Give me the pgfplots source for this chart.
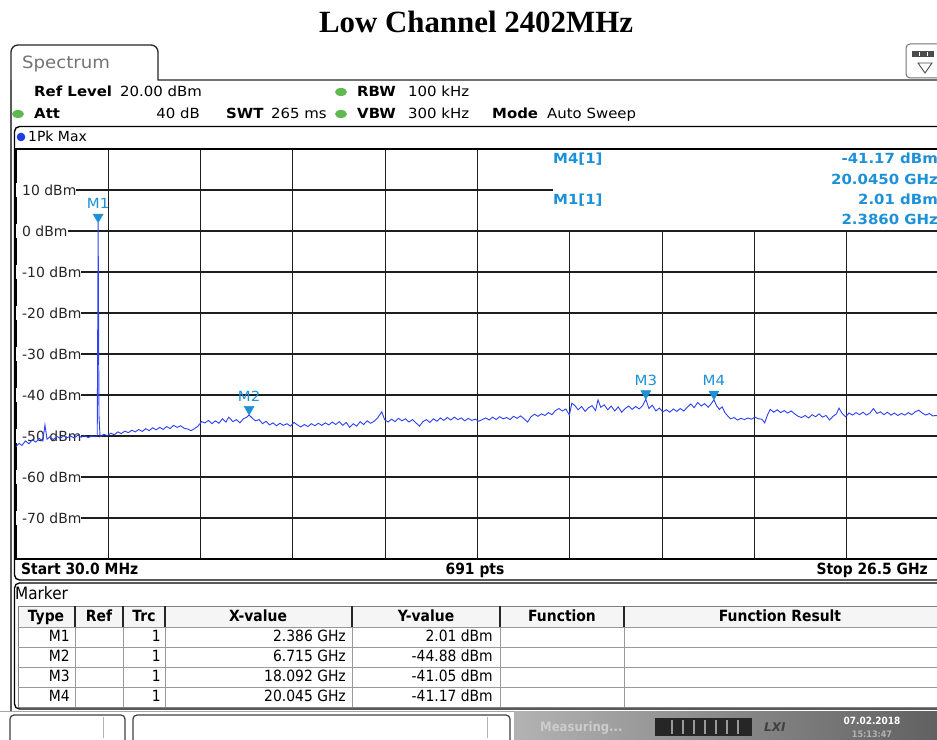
\documentclass[border=0pt]{standalone}
\usepackage{pgfplots}
\pgfplotsset{compat=1.18}
\usepackage{fontspec}
\setmainfont{DejaVu Sans}
\newfontfamily\titlefont{Liberation Serif}
\newfontfamily\hdrfont{DejaVu Sans}[FakeStretch=1.07]
\newfontfamily\tabfont{DejaVu Sans}[FakeStretch=0.9]
\newcommand\hdr{\hdrfont\fontsize{14}{16}\selectfont}
\newcommand\lbl{\normalfont\fontsize{14}{16}\selectfont}
\newcommand\tabf{\tabfont\fontsize{15.5}{17}\selectfont}

\definecolor{traceblue}{RGB}{45,65,245}
\definecolor{mkblue}{RGB}{28,145,215}
\definecolor{ledgreen}{RGB}{95,185,80}
\definecolor{dotblue}{RGB}{30,60,230}
\definecolor{gridc}{RGB}{30,30,30}

\begin{document}
\begin{tikzpicture}[x=1bp,y=1bp]
% page background
\fill[white] (0,0) rectangle (937,740);

% diagram frame (drawn before the axis so the axis lines sit on top)
\draw[black, line width=1.4bp, rounded corners=5bp] (14.5,740-580) rectangle (960,740-126.5);

\begin{axis}[
  name=spec,
  at={(16bp,181bp)}, anchor=south west,
  scale only axis, width=923bp, height=410bp,
  xmin=0.03, xmax=26.5, ymin=-80, ymax=20,
  xtick={2.677,5.324,7.971,10.618,13.265,15.912,18.559,21.206,23.853},
  ytick={-70,-60,-50,-40,-30,-20,-10,0,10},
  xticklabels={}, yticklabels={},
  major tick length=0pt,
  grid=major,
  major grid style={gridc, line width=1.1bp},
  axis line style={black, line width=1.4bp},
  clip=false,
]
% level labels sit on the grid lines
\pgfplotsinvokeforeach{10,0,-10,-20,-30,-40,-50,-60,-70}{
  \node[anchor=west, fill=white, inner xsep=0pt, inner ysep=2bp, text=black!85, font=\lbl]
    at (axis cs:0.03,#1) {\hspace*{6bp}#1 dBm};
}
% marker readout area
\fill[white] (axis cs:15.43,19.75) rectangle (axis cs:26.8,0.35);

% trace 1: Pk Max
\addplot[traceblue, line width=0.9bp] coordinates {
(0.03,-52.6)(0.12,-51.8)(0.2,-52.3)(0.3,-51.2)(0.4,-51.9)(0.5,-50.9)(0.6,-51.5)(0.7,-50.6)
(0.8,-51.2)(0.86,-47.3)(0.92,-50.8)(1.0,-50.2)(1.1,-50.9)(1.2,-50.1)(1.3,-50.6)(1.4,-49.9)
(1.5,-50.4)(1.6,-50.0)(1.7,-50.5)(1.8,-49.8)(1.9,-50.3)(2.0,-49.9)(2.1,-50.4)(2.2,-50.0)
(2.3,-50.2)(2.36,-49.9)(2.386,2.01)(2.41,-44.9)(2.44,-50.2)
(2.55,-49.6)(2.65,-49.9)(2.75,-49.3)(2.85,-49.7)(2.95,-49.0)(3.05,-49.4)(3.15,-48.8)(3.25,-49.2)
(3.35,-48.6)(3.45,-49.0)(3.55,-48.4)(3.65,-48.9)(3.75,-48.2)(3.85,-48.7)(3.95,-48.0)(4.05,-48.5)
(4.15,-47.9)(4.25,-48.4)(4.35,-47.7)(4.45,-48.2)(4.55,-47.4)(4.65,-47.9)(4.75,-47.5)(4.85,-48.1)
(4.95,-48.3)(5.05,-48.7)(5.15,-48.2)(5.25,-47.6)(5.35,-46.5)
(5.45,-46.8)(5.55,-46.2)(5.65,-47.0)(5.75,-46.3)(5.85,-46.9)(5.95,-45.8)(6.05,-46.6)(6.13,-45.4)
(6.25,-46.5)(6.35,-46.0)(6.45,-46.8)(6.55,-45.8)(6.65,-45.4)(6.715,-44.88)(6.8,-45.6)(6.9,-46.3)
(7.0,-46.0)(7.1,-47.0)(7.2,-46.4)(7.3,-47.3)(7.4,-46.8)(7.5,-47.5)(7.6,-46.9)(7.7,-47.4)
(7.8,-47.0)(7.9,-47.6)(8.0,-46.7)
(8.1,-47.3)(8.2,-47.8)(8.3,-47.2)(8.4,-47.7)(8.5,-47.0)(8.6,-47.5)(8.7,-46.9)(8.8,-47.4)
(8.9,-46.8)(9.0,-47.3)(9.1,-46.6)(9.2,-47.2)(9.3,-46.5)(9.4,-47.4)(9.5,-46.7)(9.6,-47.9)
(9.7,-47.0)(9.8,-47.6)(9.9,-46.5)(10.0,-47.2)(10.1,-46.3)(10.2,-46.9)(10.3,-46.4)(10.4,-45.6)
(10.52,-44.1)(10.6,-46.0)(10.7,-46.6)
(10.8,-45.9)(10.9,-46.5)(11.0,-45.7)(11.1,-46.3)(11.2,-45.8)(11.3,-46.6)(11.4,-46.0)(11.5,-46.8)
(11.6,-47.6)(11.7,-46.5)(11.8,-46.0)(11.9,-46.7)(12.0,-45.8)(12.1,-46.4)(12.2,-45.6)(12.3,-46.2)
(12.4,-45.5)(12.5,-46.1)(12.6,-45.4)(12.7,-46.0)(12.8,-45.6)(12.9,-46.3)(13.0,-45.7)(13.1,-46.2)
(13.2,-45.9)(13.3,-46.4)(13.4,-46.0)
(13.5,-45.6)(13.6,-46.1)(13.7,-45.4)(13.8,-46.0)(13.9,-45.3)(14.0,-45.8)(14.1,-45.5)(14.2,-46.0)
(14.3,-45.2)(14.4,-45.7)(14.5,-45.1)(14.6,-45.8)(14.7,-46.6)(14.8,-45.3)(14.9,-44.7)(15.0,-45.2)
(15.1,-44.6)(15.2,-45.0)(15.3,-44.3)(15.4,-44.8)(15.5,-43.8)(15.6,-43.3)(15.7,-43.9)(15.8,-43.4)
(15.9,-44.9)(15.97,-42.0)
(16.05,-42.5)(16.15,-43.6)(16.25,-42.8)(16.35,-44.0)(16.45,-43.1)(16.55,-42.6)(16.65,-43.8)
(16.72,-41.2)(16.8,-43.0)(16.9,-42.4)(17.0,-43.6)(17.1,-42.7)(17.2,-43.9)(17.3,-42.9)(17.4,-44.2)
(17.5,-43.3)(17.6,-42.7)(17.7,-43.5)(17.8,-42.8)(17.9,-43.4)(18.0,-42.6)(18.092,-41.05)(18.18,-43.3)
(18.28,-42.5)(18.38,-43.9)(18.48,-43.2)(18.58,-44.1)
(18.68,-43.6)(18.78,-44.2)(18.88,-43.4)(18.98,-44.0)(19.08,-43.3)(19.18,-43.9)(19.28,-43.0)(19.38,-42.2)
(19.48,-43.1)(19.58,-41.8)(19.68,-42.7)(19.78,-42.1)(19.88,-43.0)(19.96,-42.2)(20.045,-41.17)(20.12,-42.6)
(20.2,-43.5)(20.28,-42.9)(20.36,-44.3)(20.44,-45.1)(20.52,-45.8)(20.62,-45.5)(20.72,-46.1)(20.82,-45.7)
(20.92,-46.0)(21.02,-45.6)(21.12,-45.9)(21.22,-45.4)(21.32,-45.8)(21.42,-45.9)(21.5,-46.8)(21.58,-44.9)
(21.66,-43.5)(21.76,-44.2)
(21.86,-43.6)(21.96,-44.3)(22.06,-43.8)(22.16,-44.4)(22.26,-43.9)(22.36,-44.6)(22.46,-45.2)(22.56,-45.5)
(22.66,-45.0)(22.76,-45.6)(22.86,-44.8)(22.96,-45.3)(23.06,-44.6)(23.16,-45.4)(23.26,-45.0)(23.36,-46.1)
(23.46,-45.2)(23.56,-44.6)(23.63,-43.2)(23.72,-44.5)(23.82,-45.3)(23.92,-44.4)(24.02,-44.9)(24.12,-44.3)
(24.22,-44.8)(24.32,-44.2)(24.42,-44.9)(24.52,-44.4)(24.62,-43.3)(24.72,-44.5)(24.82,-44.1)(24.92,-44.8)
(25.02,-44.2)(25.12,-44.9)(25.22,-44.4)(25.32,-45.0)(25.42,-44.5)(25.52,-44.9)(25.62,-44.3)(25.72,-44.8)
(25.82,-44.1)(25.92,-43.7)(26.02,-44.4)(26.12,-44.9)(26.22,-44.5)(26.32,-45.1)(26.42,-45.0)(26.5,-45.3)
};

% markers M1..M4
\addplot[only marks, mark=triangle*, mark size=5.8bp,
  mark options={yshift=5.8bp, rotate=180, fill=mkblue, draw=mkblue}]
  coordinates {(2.386,2.01)(6.715,-44.88)(18.092,-41.05)(20.045,-41.17)};
\node[anchor=base, inner sep=0pt, text=mkblue, font=\hdr, yshift=14bp] at (axis cs:2.386,2.01) {M1};
\node[anchor=base, inner sep=0pt, text=mkblue, font=\hdr, yshift=14bp] at (axis cs:6.715,-44.88) {M2};
\node[anchor=base, inner sep=0pt, text=mkblue, font=\hdr, yshift=14bp] at (axis cs:18.092,-41.05) {M3};
\node[anchor=base, inner sep=0pt, text=mkblue, font=\hdr, yshift=14bp] at (axis cs:20.045,-41.17) {M4};
\end{axis}

% title
\node[anchor=base, inner sep=0pt, font=\titlefont\bfseries\fontsize{31}{34}\selectfont]
  at (476,740-33) {Low Channel 2402MHz};

% window frame and tab
\draw[black!85, line width=1.3bp] (11,740-80) -- (11,740-52)
  arc[start angle=180,end angle=90,radius=7] -- (151,740-45)
  arc[start angle=90,end angle=0,radius=7] -- (158,740-80) -- (945,740-80);
\draw[black!65, line width=2.4bp] (11,740-80) -- (11,740-711);
\node[anchor=base west, inner sep=0pt, text=black!55, font=\hdrfont\fontsize{17}{19}\selectfont]
  at (22,740-69) {Spectrum};

% settings icon
\draw[black!55, line width=1bp, rounded corners=4bp] (906,740-78) rectangle (950,740-44);
\fill[black!70] (912,740-57) rectangle (934,740-51);
\foreach \i in {919,927} \draw[white, line width=0.8bp] (\i,740-56) -- (\i,740-52);
\draw[black!70, line width=0.9bp] (918,740-63) -- (932,740-63) -- (925,740-73) -- cycle;

% instrument settings
\fill[ledgreen] (341,740-92) ellipse [x radius=6, y radius=4];
\fill[ledgreen] (341,740-114) ellipse [x radius=6, y radius=4];
\fill[ledgreen] (18,740-114) ellipse [x radius=6, y radius=4];
\begin{scope}[every node/.style={inner sep=0pt, font=\hdr}]
\node[anchor=base west] at (34,740-97) {\bfseries Ref Level};
\node[anchor=base west] at (120,740-97) {20.00 dBm};
\node[anchor=base west] at (357,740-97) {\bfseries RBW};
\node[anchor=base west] at (408,740-97) {100 kHz};
\node[anchor=base west] at (34,740-119) {\bfseries Att};
\node[anchor=base east] at (200,740-119) {40 dB};
\node[anchor=base west] at (226,740-119) {\bfseries SWT};
\node[anchor=base west] at (271,740-119) {265 ms};
\node[anchor=base west] at (357,740-119) {\bfseries VBW};
\node[anchor=base west] at (408,740-119) {300 kHz};
\node[anchor=base west] at (492,740-119) {\bfseries Mode};
\node[anchor=base west] at (547,740-119) {Auto Sweep};
\end{scope}

% trace indicator
\fill[dotblue] (21,740-137) circle (4.3);
\node[anchor=base west, inner sep=0pt, font=\lbl] at (28,740-142) {1Pk Max};

% marker readout
\begin{scope}[every node/.style={inner sep=0pt, text=mkblue, font=\hdr\bfseries}]
\node[anchor=base west] at (553,740-164) {M4[1]};
\node[anchor=base east] at (938,740-164) {-41.17 dBm};
\node[anchor=base east] at (938,740-185) {20.0450 GHz};
\node[anchor=base west] at (553,740-205) {M1[1]};
\node[anchor=base east] at (938,740-205) {2.01 dBm};
\node[anchor=base east] at (938,740-225) {2.3860 GHz};
\end{scope}

% sweep info
\begin{scope}[every node/.style={inner sep=0pt, font=\tabfont\fontsize{15.5}{17}\selectfont\bfseries}]
\node[anchor=base west] at (21,740-575) {Start 30.0 MHz};
\node[anchor=base] at (475,740-575) {691 pts};
\node[anchor=base east] at (928,740-575) {Stop 26.5 GHz};
\end{scope}

% marker table
\draw[black, line width=1.3bp, rounded corners=5bp] (14.5,740-709) rectangle (960,740-583);
\node[anchor=base west, inner sep=0pt, font=\tabfont\fontsize{17}{19}\selectfont] at (15,740-600) {Marker};
\fill[black!4] (18,740-627) rectangle (945,740-606);
\draw[black!50, line width=0.8bp] (18,740-707) rectangle (945,740-606);
\foreach \yy in {627,647,667,687}
  \draw[black!40, line width=0.8bp] (18,740-\yy) -- (945,740-\yy);
\foreach \xx in {75,123,165,352,500,624} {
  \draw[black!85, line width=1.2bp] (\xx,740-606) -- (\xx,740-627);
  \draw[black!40, line width=0.8bp] (\xx,740-627) -- (\xx,740-707);
}
\begin{scope}[every node/.style={inner sep=0pt, font=\tabf}]
\node[anchor=base, font=\tabf\bfseries] at (46,740-622) {Type};
\node[anchor=base, font=\tabf\bfseries] at (99,740-622) {Ref};
\node[anchor=base, font=\tabf\bfseries] at (144,740-622) {Trc};
\node[anchor=base, font=\tabf\bfseries] at (258,740-622) {X-value};
\node[anchor=base, font=\tabf\bfseries] at (426,740-622) {Y-value};
\node[anchor=base, font=\tabf\bfseries] at (562,740-622) {Function};
\node[anchor=base, font=\tabf\bfseries] at (780,740-622) {Function Result};
\node[anchor=base east] at (70,740-642) {M1};
\node[anchor=base east] at (161,740-642) {1};
\node[anchor=base east] at (346,740-642) {2.386 GHz};
\node[anchor=base east] at (493,740-642) {2.01 dBm};
\node[anchor=base east] at (70,740-662) {M2};
\node[anchor=base east] at (161,740-662) {1};
\node[anchor=base east] at (346,740-662) {6.715 GHz};
\node[anchor=base east] at (493,740-662) {-44.88 dBm};
\node[anchor=base east] at (70,740-682) {M3};
\node[anchor=base east] at (161,740-682) {1};
\node[anchor=base east] at (346,740-682) {18.092 GHz};
\node[anchor=base east] at (493,740-682) {-41.05 dBm};
\node[anchor=base east] at (70,740-702) {M4};
\node[anchor=base east] at (161,740-702) {1};
\node[anchor=base east] at (346,740-702) {20.045 GHz};
\node[anchor=base east] at (493,740-702) {-41.17 dBm};
\end{scope}

% status bar
\draw[black!35, line width=1bp] (0,740-711.5) -- (937,740-711.5);
\draw[black!75, line width=1.2bp, rounded corners=4bp] (10,-6) rectangle (125,740-715);
\draw[black!75, line width=1.2bp, rounded corners=4bp] (133,-6) rectangle (510,740-715);
\draw[black!30, line width=0.8bp] (103,2) -- (103,740-717);
\draw[black!30, line width=0.8bp] (487,2) -- (487,740-717);
\shade[left color=black!30, right color=black!62] (514,0) rectangle (937,740-712);
\node[anchor=base west, inner sep=0pt, text=white!80!black, font=\tabfont\fontsize{13}{15}\selectfont\bfseries]
  at (540,740-732) {Measuring...};
\fill[black!85] (655,740-736) rectangle (752,740-718);
\foreach \xx in {672,683,694,705,716,727,738}
  \draw[black!40, line width=1.6bp] (\xx,740-734) -- (\xx,740-720);
\node[anchor=base west, inner sep=0pt, text=black!75, font=\fontsize{12}{14}\selectfont\bfseries\itshape]
  at (764,740-732) {LXI};
\node[inner sep=0pt, text=white, font=\tabfont\fontsize{10}{12}\selectfont\bfseries] at (872,740-721) {07.02.2018};
\node[inner sep=0pt, text=white!70!black, font=\tabfont\fontsize{9}{11}\selectfont\bfseries] at (872,740-734) {15:13:47};

% page size
\pgfresetboundingbox
\useasboundingbox (0,0) rectangle (937,740);
\end{tikzpicture}
\end{document}
